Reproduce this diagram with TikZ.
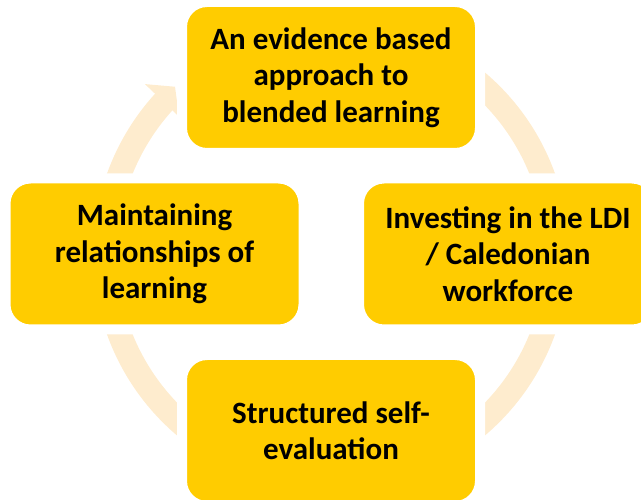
\documentclass[tikz,border=0pt]{standalone}
\usepackage{fontspec}
\setmainfont{Carlito}
\definecolor{boxyellow}{RGB}{255,204,0}
\definecolor{ringcream}{RGB}{254,236,206}
\tikzset{
  stage/.style={rounded corners=25pt, fill=boxyellow, draw=white, line width=10pt,
    minimum width=298pt, minimum height=151pt, inner sep=0pt, align=center,
    font=\bfseries\fontsize{31}{36.5}\selectfont, text=black},
  ring/.style={draw=ringcream, line width=24pt},
}
\begin{document}
\begin{tikzpicture}[x=1pt,y=1pt]
\useasboundingbox (0,0) rectangle (641,499);
\clip (0,0) rectangle (641,499);
\coordinate (c) at (331,245);
% ring segments running clockwise between the stages
\draw[ring] (c) ++(88:226) coordinate (a1) arc[start angle=88, end angle=15, radius=226];
\draw[ring] (c) ++(-10:226) coordinate (a2) arc[start angle=-10, end angle=-85, radius=226];
\draw[ring] (c) ++(-95:226) coordinate (a3) arc[start angle=-95, end angle=-170, radius=226];
\draw[ring] (c) ++(190:226) coordinate (a4) arc[start angle=190, end angle=137.6, radius=226];
% arrow head leading into the top stage
\path (c) ++(137.6:252) coordinate (h1)
      (c) ++(133:228.7) coordinate (h2)
      (c) ++(137.9:204.8) coordinate (h3);
\fill[ringcream] (h1) -- (h2) -- (h3) -- cycle;
% stages
\node[stage] (top) at (331,421.5) {An evidence based\\approach to\\blended learning};
\node[stage] (right) at (508,245) {Investing in the LDI\\/ Caledonian\\workforce};
\node[stage] (left) at (154.5,245) {Maintaining\\relationships of\\learning};
\node[stage] (bottom) at (331,68.5) {Structured self-\\evaluation};
\end{tikzpicture}
\end{document}
